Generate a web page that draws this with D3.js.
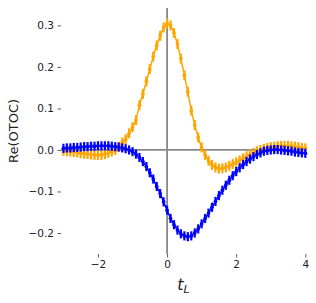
<!DOCTYPE html>
<html>
<head>
<meta charset="utf-8">
<script src="https://cdn.jsdelivr.net/npm/d3@7"></script>
<style>
  body { margin: 0; background: #fff; }
  text { font-family: "DejaVu Sans", sans-serif; }
</style>
</head>
<body>
<script>
// times t_L, step 0.1 from -3 to 4
var times = d3.range(71).map(function(i) { return -3 + i / 10; });

// Re(OTOC), orange series
var orangeVals = [
  -0.002, -0.003, -0.004, -0.005, -0.006, -0.008, -0.009, -0.010, -0.011, -0.012,
  -0.012, -0.012, -0.010, -0.007, -0.004,  0.000,  0.008,  0.018,  0.026,  0.040,
   0.055,  0.072,  0.108,  0.135,  0.165,  0.195,  0.225,  0.252,  0.275,  0.295,
   0.305,  0.300,  0.282,  0.255,  0.220,  0.180,  0.140,  0.095,  0.060,  0.030,
   0.006, -0.012, -0.026, -0.036, -0.042, -0.045, -0.044, -0.042, -0.038, -0.034,
  -0.030, -0.025, -0.020, -0.015, -0.011, -0.007, -0.003,  0.000,  0.003,  0.005,
   0.007,  0.008,  0.009,  0.010,  0.010,  0.010,  0.009,  0.008,  0.007,  0.005,
   0.004
];

// Re(OTOC), blue series
var blueVals = [
   0.004,  0.005,  0.005,  0.006,  0.006,  0.007,  0.008,  0.008,  0.009,  0.009,
   0.010,  0.010,  0.010,  0.010,  0.009,  0.008,  0.007,  0.005,  0.003,  0.000,
  -0.004, -0.010, -0.018, -0.028, -0.040, -0.055, -0.070, -0.088, -0.105, -0.125,
  -0.145, -0.165, -0.180, -0.193, -0.202, -0.207, -0.209, -0.207, -0.200, -0.190,
  -0.178, -0.165, -0.152, -0.138, -0.124, -0.110, -0.097, -0.085, -0.073, -0.062,
  -0.052, -0.043, -0.035, -0.028, -0.022, -0.016, -0.011, -0.007, -0.003, -0.001,
   0.000,  0.001,  0.001,  0.000, -0.001, -0.002, -0.003, -0.005, -0.006, -0.007,
  -0.008
];

// error bar half heights
var orangeErr = 0.012;
var blueErr = 0.011;

var xTicks = [-2, 0, 2, 4];
var yTicks = [-0.2, -0.1, 0.0, 0.1, 0.2, 0.3];

var W = 316, H = 303;
var plotL = 61, plotR = 306, plotT = 8, plotB = 254;

var svg = d3.select("body").append("svg")
    .attr("width", W)
    .attr("height", H);

var x = d3.scaleLinear().domain([-3.07, 4.02]).range([plotL, plotR]);
var y = d3.scaleLinear().domain([-0.2506, 0.342]).range([plotB, plotT]);

// zero lines
svg.append("line")
    .attr("x1", plotL).attr("x2", plotR)
    .attr("y1", y(0)).attr("y2", y(0))
    .attr("stroke", "#888").attr("stroke-width", 1.8);
svg.append("line")
    .attr("x1", x(0)).attr("x2", x(0))
    .attr("y1", plotT).attr("y2", plotB)
    .attr("stroke", "#888").attr("stroke-width", 1.8);

function drawSeries(vals, err, color) {
  var data = times.map(function(t, i) { return {t: t, v: vals[i]}; });
  var g = svg.append("g");

  g.append("path")
      .datum(data)
      .attr("fill", "none")
      .attr("stroke", color)
      .attr("stroke-width", 1.5)
      .attr("d", d3.line()
        .x(function(d) { return x(d.t); })
        .y(function(d) { return y(d.v); }));

  g.selectAll("line.err")
      .data(data)
    .enter().append("line")
      .attr("class", "err")
      .attr("x1", function(d) { return x(d.t); })
      .attr("x2", function(d) { return x(d.t); })
      .attr("y1", function(d) { return y(d.v - err); })
      .attr("y2", function(d) { return y(d.v + err); })
      .attr("stroke", color)
      .attr("stroke-width", 2.2);

  g.selectAll("circle")
      .data(data)
    .enter().append("circle")
      .attr("cx", function(d) { return x(d.t); })
      .attr("cy", function(d) { return y(d.v); })
      .attr("r", 1.9)
      .attr("fill", color);
}

drawSeries(orangeVals, orangeErr, "#ffa500");
drawSeries(blueVals, blueErr, "#0000ff");

// axes (no spines)
var xAxis = svg.append("g")
    .attr("transform", "translate(0," + plotB + ")")
    .call(d3.axisBottom(x).tickValues(xTicks).tickSize(3.5).tickPadding(3)
      .tickFormat(function(d) { return d < 0 ? "\u2212" + Math.abs(d) : d; }));
var yAxis = svg.append("g")
    .attr("transform", "translate(" + plotL + ",0)")
    .call(d3.axisLeft(y).tickValues(yTicks).tickSize(3.5).tickPadding(3.5)
      .tickFormat(function(d) { return (d < 0 ? "\u2212" : "") + Math.abs(d).toFixed(1); }));

[xAxis, yAxis].forEach(function(a) {
  a.select(".domain").remove();
  a.selectAll(".tick line").attr("stroke", "#333").attr("stroke-width", 0.8);
  a.selectAll(".tick text")
      .attr("fill", "#222")
      .style("font-family", "DejaVu Sans")
      .style("font-size", "10.5px");
});

// axis labels
svg.append("text")
    .attr("transform", "translate(18," + ((plotT + plotB) / 2) + ") rotate(-90)")
    .attr("text-anchor", "middle")
    .style("font-size", "13px")
    .attr("fill", "#222")
    .text("Re(OTOC)");

var xl = svg.append("text")
    .attr("x", (plotL + plotR) / 2)
    .attr("y", 290)
    .attr("text-anchor", "middle")
    .style("font-size", "16px")
    .style("font-style", "italic")
    .attr("fill", "#222");
xl.append("tspan").text("t");
xl.append("tspan").attr("dy", 3).style("font-size", "11px").text("L");
</script>
</body>
</html>
